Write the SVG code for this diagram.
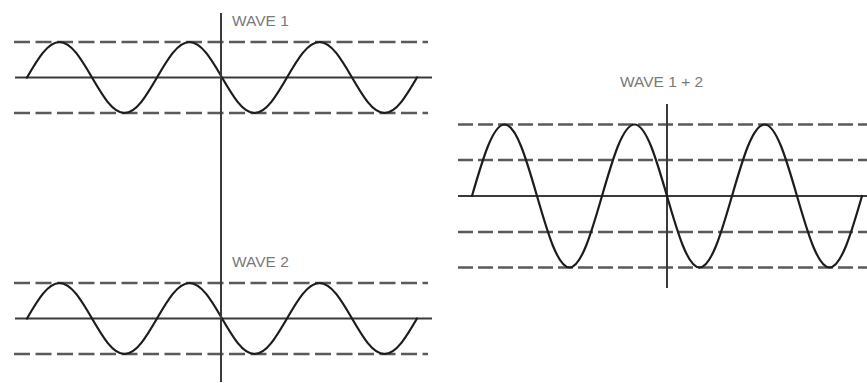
<svg xmlns="http://www.w3.org/2000/svg" xmlns:xlink="http://www.w3.org/1999/xlink" width="867" height="383" viewBox="0 0 867 383">
  <style>
    .dash { stroke: #5a5a5a; stroke-width: 2.3; stroke-dasharray: 16 5.5; fill: none; }
    .dash2 { stroke: #5a5a5a; stroke-width: 2.3; stroke-dasharray: 15 5; fill: none; }
    .axis { stroke: #3a3a3a; stroke-width: 2; fill: none; }
    .wave { stroke: #1c1c1c; stroke-width: 2.2; fill: none; stroke-linejoin: round; stroke-linecap: round; }
    .label { font-family: "Liberation Sans", Arial, sans-serif; font-size: 15.5px; fill: #7a7a7a; }
  </style>
  <defs>
    <path id="w1" d="M27,0 c10.6,-18.19 20.74,-35.5 32.5,-35.5 s21.9,17.31 32.5,35.5 s20.74,35.5 32.5,35.5 s21.9,-17.31 32.5,-35.5 s20.74,-35.5 32.5,-35.5 s21.9,17.31 32.5,35.5 s20.74,35.5 32.5,35.5 s21.9,-17.31 32.5,-35.5 s20.74,-35.5 32.5,-35.5 s21.9,17.31 32.5,35.5 s20.74,35.5 32.5,35.5 s21.9,-17.31 32.5,-35.5"/>
    <g id="panel">
      <line class="dash" x1="14" y1="-35.5" x2="428" y2="-35.5"/>
      <line class="axis" x1="15" y1="0" x2="432" y2="0"/>
      <line class="dash" x1="14" y1="35.5" x2="428" y2="35.5"/>
      <use xlink:href="#w1" class="wave"/>
    </g>
  </defs>
  <rect width="867" height="383" fill="#ffffff"/>

  <g id="wave1">
    <use xlink:href="#panel" transform="translate(0,77.5)"/>
    <text class="label" x="232" y="26">WAVE 1</text>
  </g>

  <g id="wave2">
    <use xlink:href="#panel" transform="translate(0,318.5)"/>
    <text class="label" x="232" y="267">WAVE 2</text>
  </g>

  <g id="time-axis">
    <line class="axis" x1="221" y1="13" x2="221" y2="382"/>
  </g>

  <g id="wave-sum">
    <line class="dash2" x1="458" y1="124.5" x2="867" y2="124.5"/>
    <line class="dash2" x1="458" y1="160" x2="867" y2="160"/>
    <line class="axis" x1="458" y1="196" x2="867" y2="196"/>
    <line class="dash2" x1="458" y1="232" x2="867" y2="232"/>
    <line class="dash2" x1="458" y1="267.5" x2="867" y2="267.5"/>
    <line class="axis" x1="667" y1="104" x2="667" y2="288"/>
    <path class="wave" d="M472,196 c10.6,-36.63 20.74,-71.5 32.5,-71.5 s21.9,34.87 32.5,71.5 s20.74,71.5 32.5,71.5 s21.9,-34.87 32.5,-71.5 s20.74,-71.5 32.5,-71.5 s21.9,34.87 32.5,71.5 s20.74,71.5 32.5,71.5 s21.9,-34.87 32.5,-71.5 s20.74,-71.5 32.5,-71.5 s21.9,34.87 32.5,71.5 s20.74,71.5 32.5,71.5 s21.9,-34.87 32.5,-71.5"/>
    <text class="label" x="620" y="86.5">WAVE 1 + 2</text>
  </g>
</svg>
